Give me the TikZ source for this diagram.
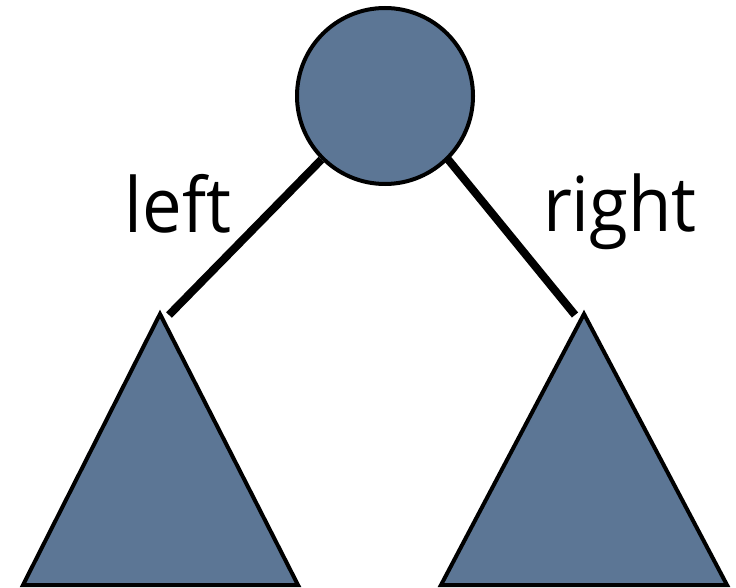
\documentclass[tikz,border=0pt]{standalone}
\usepackage{fontspec}
\setmainfont[FakeStretch=0.93]{Open Sans}
\definecolor{nodeblue}{RGB}{92,118,149}
\begin{document}
\begin{tikzpicture}[x=1pt,y=-1pt,
  shapefill/.style={fill=nodeblue,draw=black,line width=4pt,line join=miter},
  edge/.style={draw=black,line width=8pt},
  lbl/.style={anchor=base,inner sep=0pt,font=\fontsize{76}{80}\selectfont}]
\useasboundingbox (0,0) rectangle (736,588);
\node[circle,shapefill,minimum size=176pt,inner sep=0pt] (root) at (385,96) {};
\coordinate (lapex) at (160,314);
\coordinate (rapex) at (584,314);
\draw[shapefill] (lapex) -- (23,585) -- (298,585) -- cycle;
\draw[shapefill] (rapex) -- (441,585) -- (727,585) -- cycle;
\coordinate (lend) at (169,315);
\coordinate (rend) at (575,315);
\draw[edge] (root.225) -- (lend);
\draw[edge] ([shift={(-45:-3pt)}]root.-45) -- (rend);
\node[lbl] (ltxt) at (178,233) {left};
\node[lbl] (rtxt) at (620,232) {right};
\end{tikzpicture}
\end{document}
